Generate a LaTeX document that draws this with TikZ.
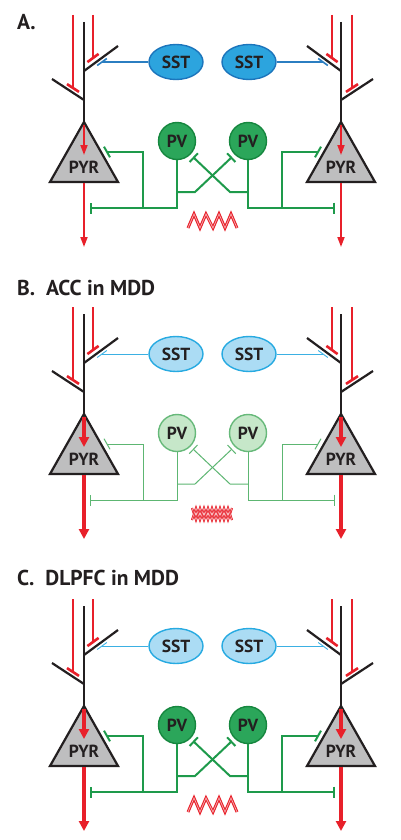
\documentclass[tikz,border=0pt]{standalone}
\usepackage{fontspec}
\setmainfont{PT Sans}
\usetikzlibrary{calc,arrows.meta,shapes.geometric}
\definecolor{myred}{HTML}{E8202A}
\definecolor{txt}{HTML}{231F20}
\definecolor{sstA}{HTML}{2CA4DE}
\definecolor{sstAd}{HTML}{1C75BC}
\definecolor{sstL}{HTML}{ABDCF4}
\definecolor{sstLd}{HTML}{27AAE1}
\definecolor{bluecA}{HTML}{2B7EC1}
\definecolor{bluecL}{HTML}{3BB0E3}
\definecolor{pvA}{HTML}{2BA65A}
\definecolor{pvAd}{HTML}{16873F}
\definecolor{pvL}{HTML}{C6E7C9}
\definecolor{pvLd}{HTML}{67B97A}
\definecolor{grA}{HTML}{1E9A4B}
\definecolor{grL}{HTML}{5DB672}
\definecolor{pyrgray}{HTML}{BEBEBF}

\tikzset{
 dend/.style={draw=txt, line width=2.2pt},
 redin/.style={draw=myred, line width=2pt},
 redbar/.style={draw=myred, line width=2.6pt},
 tri/.style={draw=txt, fill=pyrgray, line width=2.2pt, line join=miter},
 lbl/.style={text=txt, font=\bfseries\fontsize{17.5}{18}\selectfont, inner sep=0pt},
 ttl/.style={text=txt, font=\bfseries\fontsize{21.5}{23}\selectfont, anchor=west, inner sep=0pt},
 zig/.style={draw=myred, line width=1.1pt, double=myred!35, double distance=0.7pt, line join=miter},
 zigthin/.style={draw=myred, line width=0.8pt, double=myred!35, double distance=0.5pt, line join=miter},
 sstshape/.style={ellipse, minimum width=54pt, minimum height=35pt, lbl},
 pvshape/.style={circle, minimum size=37pt, lbl},
 panelA/.style={
   sstn/.style={sstshape, fill=sstA, draw=sstAd, line width=1.4pt},
   sstc/.style={draw=bluecA, line width=1.6pt},
   pvn/.style={pvshape, fill=pvA, draw=pvAd, line width=1.4pt},
   pvc/.style={draw=grA, line width=2pt},
   rarr/.style={draw=myred, line width=1.8pt, -{Triangle[length=10pt,width=7pt]}}},
 panelB/.style={
   sstn/.style={sstshape, fill=sstL, draw=sstLd, line width=1.4pt},
   sstc/.style={draw=bluecL, line width=0.9pt},
   pvn/.style={pvshape, fill=pvL, draw=pvLd, line width=1.4pt},
   pvc/.style={draw=grL, line width=1pt},
   rarr/.style={draw=myred, line width=4pt, -{Triangle[length=10pt,width=10pt]}}},
 panelC/.style={
   sstn/.style={sstshape, fill=sstL, draw=sstLd, line width=1.4pt},
   sstc/.style={draw=bluecL, line width=0.9pt},
   pvn/.style={pvshape, fill=pvA, draw=pvAd, line width=1.4pt},
   pvc/.style={draw=grA, line width=2pt},
   rarr/.style={draw=myred, line width=4pt, -{Triangle[length=10pt,width=10pt]}}},
}

\newcommand\halfpanel[1]{%
 \coordinate (top#1) at (84,22);
 \coordinate (apex#1) at (84,122);
 \coordinate (bu#1) at (84,71);
 \coordinate (bue#1) at (118,46);
 \coordinate (bl#1) at (84,100);
 \coordinate (ble#1) at (52,79);
 \draw[dend] (top#1) -- (apex#1);
 \draw[dend] (bu#1) -- (bue#1);
 \draw[dend] (bl#1) -- (ble#1);
 \coordinate (ra#1) at (73,15); \coordinate (rae#1) at (73,88);
 \coordinate (rb#1) at (93,15); \coordinate (rbe#1) at (93,58);
 \draw[redin] (ra#1) -- (rae#1);
 \draw[redbar] ($(rae#1)+(-6,-3.9)$) -- ($(rae#1)+(6,3.9)$);
 \draw[redin] (rb#1) -- (rbe#1);
 \draw[redbar] ($(rbe#1)+(-5.6,4.1)$) -- ($(rbe#1)+(5.6,-4.1)$);
 \coordinate (bbl#1) at (50,182); \coordinate (bbr#1) at (118,182);
 \draw[tri] (apex#1) -- (bbr#1) -- (bbl#1) -- cycle;
 \node[lbl] (pyr#1) at (84,167) {PYR};
 \coordinate (in#1) at (84,125); \coordinate (ine#1) at (84,155);
 \coordinate (base#1) at (84,183); \coordinate (out#1) at (84,247);
 \draw[rarr] (in#1) -- (ine#1);
 \draw[rarr] (base#1) -- (out#1);
 \node[sstn] (sst#1) at (176,62) {SST};
 \coordinate (sb#1) at (102,62);
 \draw[sstc] (sst#1) -- (sb#1);
 \draw[sstc] ($(sb#1)+(-4.8,3.5)$) -- ($(sb#1)+(4.8,-3.5)$);
 \node[pvn] (pv#1) at (177,141) {PV};
 \coordinate (g0#1) at (177,192);
 \coordinate (gb#1) at (177,208);
 \coordinate (gbar#1) at (90,208);
 \draw[pvc, -{Bar[width=11pt]}] (pv#1) -- (gb#1) -- (gbar#1);
 \coordinate (gv#1) at (143,208); \coordinate (gvt#1) at (143,152); \coordinate (gt#1) at (107,152);
 \draw[pvc] (gv#1) -- (gvt#1) -- (gt#1);
 \draw[pvc] ($(gt#1)+(-3,-5.3)$) -- ($(gt#1)+(3,5.3)$);
 \coordinate (gd#1) at (195,192); \coordinate (gx#1) at (232,157);
 \draw[pvc, -{Bar[width=12pt]}] (g0#1) -- (gd#1) -- (gx#1);
}

\newcommand\panel{%
 \halfpanel{L}
 \begin{scope}[xshift=425pt, xscale=-1]
  \halfpanel{R}
 \end{scope}
}

\begin{document}
\begin{tikzpicture}[x=1pt,y=-1pt]
\useasboundingbox[fill=white] (0,0) rectangle (400,840);
% Panel A
\node[ttl] (titleA) at (17,22) {A.};
\begin{scope}[panelA, name prefix=A-]
 \panel
 \draw[zig] (188,228) -- (194,214) -- (200,228) -- (206,214) -- (213,228) -- (219,214) -- (225,228) -- (231,214) -- (237,228);
\end{scope}
% Panel B
\node[ttl] (titleB) at (17,288) {B.~~ACC in MDD};
\begin{scope}[shift={(0,292)}, panelB, name prefix=B-]
 \panel
 \draw[zigthin] (192,216) -- (196,228) -- (200,216) -- (204,228) -- (208,216) -- (212,228) -- (216,216) -- (220,228) -- (224,216) -- (228,228) -- (232,216);
 \draw[zigthin] (192,228) -- (196,216) -- (200,228) -- (204,216) -- (208,228) -- (212,216) -- (216,228) -- (220,216) -- (224,228) -- (228,216) -- (232,228);
\end{scope}
% Panel C
\node[ttl] (titleC) at (17,578) {C.~~DLPFC in MDD};
\begin{scope}[shift={(0,584)}, panelC, name prefix=C-]
 \panel
 \draw[zig] (188,228) -- (194,214) -- (200,228) -- (206,214) -- (213,228) -- (219,214) -- (225,228) -- (231,214) -- (237,228);
\end{scope}
\end{tikzpicture}
\end{document}
